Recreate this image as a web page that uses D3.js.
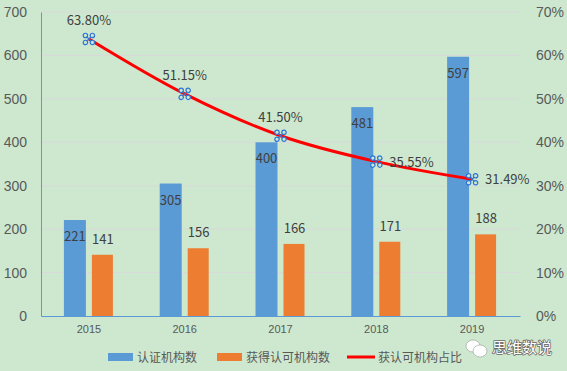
<!DOCTYPE html>
<html lang="zh">
<head>
<meta charset="UTF-8">
<title>认证机构数与获得认可机构数</title>
<style>
  body { margin: 0; background: #cde8cf; }
  svg { display: block; font-family: "Noto Sans CJK SC", "DejaVu Sans", sans-serif; }
  .tick text { fill: #595959; }
  .lbl { fill: #404040; font-size: 13px; }
</style>
</head>
<body>
<div id="chart"></div>
<script src="https://cdnjs.cloudflare.com/ajax/libs/d3/7.8.5/d3.min.js"></script>
<script>
// 数据
const years = ["2015", "2016", "2017", "2018", "2019"];
const certified = [221, 305, 400, 481, 597];
const accredited = [141, 156, 166, 171, 188];
const ratio = [0.638, 0.5115, 0.415, 0.3555, 0.3149];
const leftTicks = [0, 100, 200, 300, 400, 500, 600, 700];
const rightTicks = [0, 0.1, 0.2, 0.3, 0.4, 0.5, 0.6, 0.7];

const W = 567, H = 371;
const plotLeft = 41, plotRight = 520, plotTop = 12, plotBottom = 316;

const svg = d3.select("#chart").append("svg")
  .attr("width", W).attr("height", H);

svg.append("rect").attr("width", W).attr("height", H).attr("fill", "#cde8cf");

const x = d3.scaleBand().domain(years).range([plotLeft, plotRight]);
const y = d3.scaleLinear().domain([0, 700]).range([plotBottom, plotTop]);
const y2 = d3.scaleLinear().domain([0, 0.7]).range([plotBottom, plotTop]);

// 网格线
svg.append("g")
  .selectAll("line")
  .data(leftTicks.slice(1))
  .enter().append("line")
  .attr("x1", plotLeft).attr("x2", plotRight)
  .attr("y1", d => y(d)).attr("y2", d => y(d))
  .attr("stroke", "#d9d9d9").attr("stroke-width", 1);

// 左轴
const gl = svg.append("g")
  .attr("transform", `translate(${plotLeft},0)`)
  .call(d3.axisLeft(y).tickValues(leftTicks).tickSize(0).tickPadding(14));
gl.select(".domain").attr("stroke", "#5b9bd5");
gl.selectAll("text").style("font-size", "14px");

// 右轴
const gr = svg.append("g")
  .attr("transform", `translate(${plotRight},0)`)
  .call(d3.axisRight(y2).tickValues(rightTicks).tickFormat(d3.format(".0%")).tickSize(0).tickPadding(16));
gr.select(".domain").remove();
gr.selectAll("text").style("font-size", "14px");

// 底轴
const gb = svg.append("g")
  .attr("transform", `translate(0,${plotBottom})`)
  .call(d3.axisBottom(x).tickSize(0).tickPadding(9));
gb.select(".domain").attr("stroke", "#5b9bd5");
gb.selectAll("text").style("font-size", "11px");

const bw = 22, gap = 6;
const cx = d => x(d) + x.bandwidth() / 2;

// 柱子
svg.append("g").selectAll("rect")
  .data(years).enter().append("rect")
  .attr("x", (d) => cx(d) - gap / 2 - bw)
  .attr("y", (d, i) => y(certified[i]))
  .attr("width", bw)
  .attr("height", (d, i) => plotBottom - y(certified[i]))
  .attr("fill", "#5b9bd5");

svg.append("g").selectAll("rect")
  .data(years).enter().append("rect")
  .attr("x", (d) => cx(d) + gap / 2)
  .attr("y", (d, i) => y(accredited[i]))
  .attr("width", bw - 1)
  .attr("height", (d, i) => plotBottom - y(accredited[i]))
  .attr("fill", "#ed7d31");

// 柱子标签
svg.append("g").selectAll("text")
  .data(years).enter().append("text")
  .attr("class", "lbl")
  .attr("x", d => cx(d) - gap / 2 - bw / 2)
  .attr("y", (d, i) => y(certified[i]) + 21)
  .attr("text-anchor", "middle")
  .text((d, i) => certified[i]);

svg.append("g").selectAll("text")
  .data(years).enter().append("text")
  .attr("class", "lbl")
  .attr("x", d => cx(d) + gap / 2 + bw / 2)
  .attr("y", (d, i) => y(accredited[i]) - 11)
  .attr("text-anchor", "middle")
  .text((d, i) => accredited[i]);

// 折线
const line = d3.line()
  .x((d, i) => cx(years[i]))
  .y(d => y2(d))
  .curve(d3.curveCatmullRom.alpha(0.5));

svg.append("path")
  .datum(ratio)
  .attr("d", line)
  .attr("fill", "none")
  .attr("stroke", "#ff0000")
  .attr("stroke-width", 3);

// 标记
const mk = svg.append("g").selectAll("g")
  .data(ratio).enter().append("g")
  .attr("transform", (d, i) => `translate(${cx(years[i])},${y2(d)})`);
mk.append("path")
  .attr("d", "M-3.5,-3.5L3.5,3.5M-3.5,3.5L3.5,-3.5")
  .attr("stroke", "#2e75d6").attr("stroke-width", 1.2);
[[-3.5, -3.5], [3.5, -3.5], [-3.5, 3.5], [3.5, 3.5]].forEach(p => {
  mk.append("circle")
    .attr("cx", p[0]).attr("cy", p[1]).attr("r", 2.2)
    .attr("fill", "#cde8cf").attr("stroke", "#2e75d6").attr("stroke-width", 1.2);
});

// 折线标签
const fmt = d3.format(".2%");
svg.append("g").selectAll("text")
  .data(ratio).enter().append("text")
  .attr("class", "lbl")
  .attr("x", (d, i) => i < 3 ? cx(years[i]) : cx(years[i]) + 13)
  .attr("y", (d, i) => i < 3 ? y2(d) - 14 : y2(d) + 5)
  .attr("text-anchor", (d, i) => i < 3 ? "middle" : "start")
  .text(d => fmt(d));

// 图例
const legend = [
  { name: "认证机构数", type: "bar", color: "#5b9bd5", x: 108 },
  { name: "获得认可机构数", type: "bar", color: "#ed7d31", x: 217 },
  { name: "获认可机构占比", type: "line", color: "#ff0000", x: 347 }
];
const lg = svg.append("g").selectAll("g")
  .data(legend).enter().append("g")
  .attr("transform", d => `translate(${d.x},357)`);
lg.each(function (d) {
  const g = d3.select(this);
  if (d.type === "bar") {
    g.append("rect").attr("x", 0).attr("y", -4).attr("width", 25).attr("height", 8).attr("fill", d.color);
  } else {
    g.append("line").attr("x1", 0).attr("x2", 28).attr("y1", 0).attr("y2", 0)
      .attr("stroke", d.color).attr("stroke-width", 3);
  }
  g.append("text")
    .attr("x", d.type === "bar" ? 29 : 31).attr("y", 4.5)
    .style("font-size", "12px").attr("fill", "#595959")
    .text(d.name);
});

// 水印
const wm = svg.append("g").attr("transform", "translate(465,347)");
wm.append("ellipse").attr("cx", 8).attr("cy", -1).attr("rx", 7).attr("ry", 6).attr("fill", "#fff").attr("stroke", "#999").attr("stroke-width", 0.6);
wm.append("ellipse").attr("cx", 15).attr("cy", 4).attr("rx", 7).attr("ry", 6).attr("fill", "#fff").attr("stroke", "#999").attr("stroke-width", 0.6);
wm.append("text").attr("x", 27).attr("y", 6)
  .style("font-size", "15px")
  .style("paint-order", "stroke")
  .attr("fill", "#fff").attr("stroke", "#666").attr("stroke-width", 1.5)
  .attr("stroke-linejoin", "round")
  .text("思维数说");
</script>
</body>
</html>
